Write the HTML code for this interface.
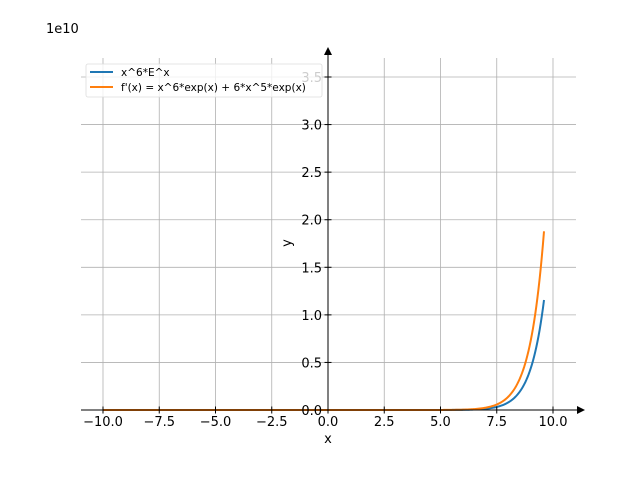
<!DOCTYPE html>
<html><head><meta charset="utf-8"><style>
html,body{margin:0;padding:0;background:#fff;}
text{font-family:"DejaVu Sans","Liberation Sans",sans-serif;}
</style></head><body>
<svg id="s" width="640" height="480" xmlns="http://www.w3.org/2000/svg">
<rect width="640" height="480" fill="#fff"/>
<g id="grid" stroke="#b0b0b0" stroke-width="0.8"></g>
<g id="curves" fill="none" stroke-width="2"></g>
<g id="axes" stroke="#000" stroke-width="1"></g>
<g id="labels" font-size="13" fill="#000"></g>
<text x="46" y="33" font-size="13">1e10</text>
<text x="328" y="443" font-size="13" text-anchor="middle">x</text>
<text x="291" y="243" font-size="13" text-anchor="middle" transform="rotate(-90 291 243)">y</text>
<rect x="86" y="64" width="236" height="33" rx="2" fill="#fff" fill-opacity="0.8" stroke="#ddd" stroke-width="0.8"/>
<line x1="90" y1="72" x2="113" y2="72" stroke="#1f77b4" stroke-width="2"/>
<line x1="90" y1="87" x2="113" y2="87" stroke="#ff7f0e" stroke-width="2"/>
<text x="121" y="76" font-size="10.5">x^6*E^x</text>
<text x="121" y="91" font-size="10.5">f'(x) = x^6*exp(x) + 6*x^5*exp(x)</text>
</svg>
<script>
var NS="http://www.w3.org/2000/svg";
function X(x){return 328+x*22.5;}
function Y(y){return 410-y*95.14;}
function el(p,t,a,txt){var e=document.createElementNS(NS,t);for(var k in a)e.setAttribute(k,a[k]);if(txt!=null)e.textContent=txt;document.getElementById(p).appendChild(e);return e;}
var xs=[-10,-7.5,-5,-2.5,0,2.5,5,7.5,10];
xs.forEach(function(v){el("grid","line",{x1:X(v),y1:58,x2:X(v),y2:410});
 el("axes","line",{x1:X(v),y1:406.5,x2:X(v),y2:413.5});
 el("labels","text",{x:X(v),y:426,"text-anchor":"middle"},(v<0?"\u2212":"")+Math.abs(v).toFixed(1));});
for(var i=0;i<=7;i++){var v=i*0.5;
 el("grid","line",{x1:81,y1:Y(v),x2:576,y2:Y(v)});
 el("axes","line",{x1:324.5,y1:Y(v),x2:331.5,y2:Y(v)});
 el("labels","text",{x:322,y:Y(v)+5,"text-anchor":"end"},v.toFixed(1));}
el("axes","line",{x1:81,y1:410,x2:580,y2:410});
el("axes","line",{x1:328,y1:410,x2:328,y2:53});
el("axes","path",{d:"M585,410 L577,406 L577,414 Z",fill:"#000",stroke:"none"});
el("axes","path",{d:"M328,47 L324,55 L332,55 Z",fill:"#000",stroke:"none"});
function path(f){var d="";for(var i=0;i<=400;i++){var x=-10+i*19.6/400;var y=f(x)/1e10;d+=(i?"L":"M")+X(x).toFixed(2)+","+Y(y).toFixed(2);}return d;}
el("curves","path",{d:path(function(x){return Math.pow(x,6)*Math.exp(x);}),stroke:"#1f77b4"});
el("curves","path",{d:path(function(x){return (Math.pow(x,6)+6*Math.pow(x,5))*Math.exp(x);}),stroke:"#ff7f0e"});
</script>
</body></html>
